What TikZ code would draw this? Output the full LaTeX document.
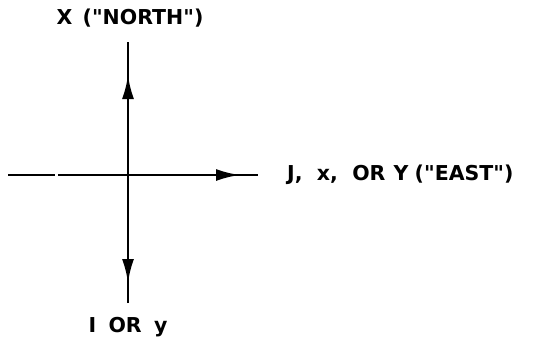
\documentclass[tikz,border=0pt]{standalone}
\usepackage{fontspec}
\newfontfamily\lblfont[Ligatures=TeXOff]{DejaVu Sans}
\usetikzlibrary{arrows.meta}
\begin{document}
\begin{tikzpicture}[x=1pt,y=1pt,
  axis/.style={line width=2.8pt},
  tip/.style={axis,-{Latex[length=24pt,width=12pt]}},
  lbl/.style={font=\lblfont\fontsize{20.5}{24}\selectfont\bfseries, inner sep=0pt}]
\useasboundingbox (0,0) rectangle (535,341);
\coordinate (O) at (128,166);
\coordinate (Ntop) at (128,299);
\coordinate (Ntip) at (128,266);
\coordinate (Sbot) at (128,38);
\coordinate (Stip) at (128,58);
\coordinate (W) at (8,166);
\coordinate (Wgap1) at (55,166);
\coordinate (Wgap2) at (58,166);
\coordinate (E) at (258,166);
\coordinate (Etip) at (240,166);
\draw[axis] (W) -- (Wgap1);
\draw[axis] (Wgap2) -- (E);
\draw[axis] (Sbot) -- (Ntop);
\draw[tip] (O) -- (Etip);
\draw[tip] (O) -- (Ntip);
\draw[tip] (O) -- (Stip);
\node[lbl] (north) at (130,323) {X\hspace{0.5em}("NORTH")};
\node[lbl,anchor=west] (east) at (287,166) {J,\hspace{0.7em}x,\hspace{0.7em}OR\hspace{0.4em}Y\hspace{0.3em}("EAST")};
\node[lbl] (south) at (128,14) {I\hspace{0.6em}OR\hspace{0.6em}y};
\end{tikzpicture}
\end{document}
